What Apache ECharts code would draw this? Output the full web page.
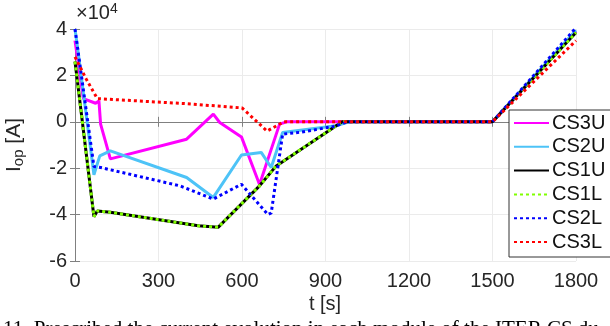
<!DOCTYPE html>
<html>
<head>
<meta charset="utf-8">
<script src="https://cdn.jsdelivr.net/npm/echarts@6/dist/echarts.min.js"></script>
<style>
  html, body { margin: 0; padding: 0; background: #fff; }
  #chart { width: 610px; height: 326px; }
</style>
</head>
<body>
<div id="chart"></div>
<script>
  // currents in units of 1e4 A, time in s
  const seriesNames = ['CS3U', 'CS2U', 'CS1U', 'CS1L', 'CS2L', 'CS3L'];
  const colors = ['#ff00ff', '#4dc3f7', '#000000', '#80ff00', '#0000ff', '#ff0000'];

  const tCS3U = [0, 30, 74, 86, 92, 127, 401, 497, 520, 598, 663, 735, 760, 1500, 1800];
  const iCS3U = [3.5, 1.0, 0.8, 0.9, -0.1, -1.6, -0.75, 0.33, -0.03, -0.65, -2.7, -0.1, 0, 0, 3.9];
  const tCS2U = [0, 8, 68, 89, 127, 401, 497, 598, 669, 705, 746, 937, 985, 1500, 1800];
  const iCS2U = [4.0, 3.3, -2.28, -1.47, -1.25, -2.4, -3.26, -1.43, -1.32, -1.97, -0.46, -0.17, 0, 0, 3.95];
  const tCS1 = [0, 68, 80, 127, 443, 514, 663, 723, 960, 1500, 1800];
  const iCS1U = [2.6, -4.09, -3.84, -3.9, -4.48, -4.55, -2.76, -1.9, 0, 0, 3.85];
  const iCS1L = [2.6, -4.09, -3.84, -3.9, -4.48, -4.55, -2.76, -1.9, 0, 0, 3.85];
  const tCS2L = [0, 68, 92, 377, 497, 598, 693, 705, 746, 810, 930, 980, 1500, 1800];
  const iCS2L = [4.0, -1.93, -1.97, -2.76, -3.33, -2.69, -4.0, -3.93, -0.53, -0.45, -0.2, 0, 0, 4.05];
  const tCS3L = [0, 40, 80, 400, 600, 690, 750, 1500, 1800];
  const iCS3L = [2.8, 1.85, 1.0, 0.78, 0.6, -0.4, 0, 0, 3.5];

  const xTicks = [0, 300, 600, 900, 1200, 1500, 1800];
  const yTicks = [-6, -4, -2, 0, 2, 4];

  const pairs = (t, v) => t.map((x, i) => [x, v[i]]);
  const seriesData = [
    pairs(tCS3U, iCS3U), pairs(tCS2U, iCS2U), pairs(tCS1, iCS1U),
    pairs(tCS1, iCS1L), pairs(tCS2L, iCS2L), pairs(tCS3L, iCS3L)
  ];
  const dotted = [false, false, false, true, true, true];

  const font = 'Liberation Sans, Arial, sans-serif';
  const mychart = echarts.init(document.getElementById('chart'));

  const axisCommon = {
    axisLine: { show: true, lineStyle: { color: '#808080', width: 1 } },
    axisTick: { show: true, inside: true, length: 5, lineStyle: { color: '#808080' } },
  };

  const option = {
    animation: false,
    backgroundColor: '#fff',
    grid: { left: 75, right: 34, top: 29, bottom: 65, containLabel: false },
    xAxis: [{
      type: 'value', min: xTicks[0], max: xTicks[xTicks.length - 1], interval: 300,
      ...axisCommon,
      axisLabel: { color: '#262626', fontSize: 20, fontFamily: font, margin: 10, formatter: v => String(v) },
      splitLine: { show: true, lineStyle: { color: '#ebebeb' } }
    }, {
      type: 'value', position: 'top', min: xTicks[0], max: xTicks[xTicks.length - 1], interval: 300,
      ...axisCommon, axisLabel: { show: false }, splitLine: { show: false }
    }],
    yAxis: [{
      type: 'value', min: yTicks[0], max: yTicks[yTicks.length - 1], interval: 2,
      ...axisCommon,
      axisLabel: { color: '#262626', fontSize: 20, fontFamily: font, margin: 8, formatter: v => String(v) },
      splitLine: { show: true, lineStyle: { color: '#ebebeb' } }
    }, {
      type: 'value', position: 'right', min: yTicks[0], max: yTicks[yTicks.length - 1], interval: 2,
      ...axisCommon, axisLabel: { show: false }, splitLine: { show: false }
    }],
    legend: {
      orient: 'vertical',
      left: 509, top: 110,
      padding: [3, 20, 5, 4],
      itemWidth: 35, itemHeight: 14, itemGap: 3.8,
      backgroundColor: '#fff',
      borderColor: '#333', borderWidth: 1, borderRadius: 0,
      itemStyle: { opacity: 0 },
      textStyle: { color: '#111', fontSize: 20, lineHeight: 20, fontFamily: font, padding: [0, 0, 0, -2] },
      data: seriesNames
    },
    graphic: [
      {
        type: 'text', left: 76, top: 2,
        style: {
          text: '×10{s|4}',
          rich: { s: { fontSize: 14, verticalAlign: 'top', padding: [0, 0, 8, 0], fill: '#262626', fontFamily: font } },
          fontSize: 20, fontFamily: font, fill: '#262626'
        }
      },
      {
        type: 'text', x: 14, y: 145, rotation: Math.PI / 2,
        style: {
          text: 'I{s|op} [A]',
          rich: { s: { fontSize: 15, padding: [10, 0, 0, 0], fill: '#262626', fontFamily: font } },
          fontSize: 21, fontFamily: font, fill: '#262626',
          align: 'center', verticalAlign: 'middle'
        }
      },
      {
        type: 'text', x: 325, y: 294,
        style: { text: 't [s]', fontSize: 20, fontFamily: font, fill: '#262626', align: 'center', verticalAlign: 'top' }
      },
      {
        type: 'text', x: 3, y: 319,
        style: {
          text: '11. Prescribed the current evolution in each module of the ITER CS du',
          fontSize: 21, fontFamily: 'Liberation Serif, serif', fill: '#000', verticalAlign: 'top'
        }
      }
    ],
    series: seriesNames.map((name, i) => ({
      name: name,
      type: 'line',
      data: seriesData[i],
      showSymbol: false,
      symbol: 'none',
      color: colors[i],
      lineStyle: {
        color: colors[i], width: 3,
        type: dotted[i] ? [3, 3] : 'solid',
        cap: 'butt'
      },
      z: 2 + i
    }))
  };
  mychart.setOption(option);
</script>
</body>
</html>
